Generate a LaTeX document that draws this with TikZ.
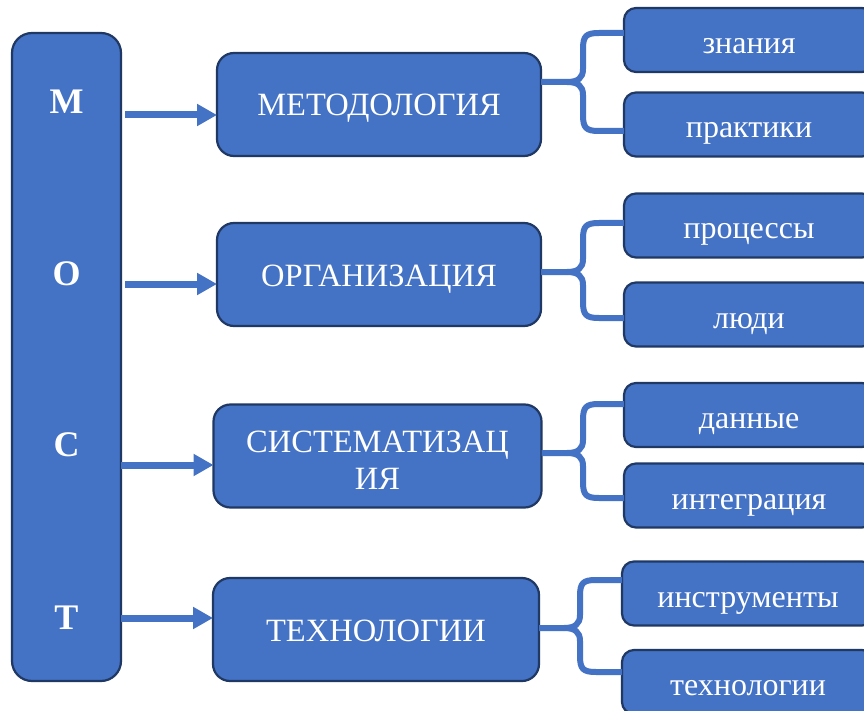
\documentclass[tikz,border=0pt]{standalone}
\usepackage{fontspec}
\setmainfont{Liberation Serif}
\usetikzlibrary{arrows.meta,calc}
\definecolor{boxfill}{HTML}{4472C4}
\definecolor{boxline}{HTML}{1F3864}
\definecolor{conn}{HTML}{4472C4}
\tikzset{
  basebox/.style={draw=boxline,fill=boxfill,line width=2.2pt,inner sep=0pt,outer sep=0pt,text=white,align=center},
  leftbox/.style={basebox,rounded corners=20pt},
  midbox/.style={basebox,rounded corners=17pt,minimum width=324pt,minimum height=103pt,font=\fontsize{32.5}{37}\selectfont,text height=23pt,text depth=0pt},
  midtext/.style={text=white,align=center,font=\fontsize{32.5}{37}\selectfont},
  rightbox/.style={basebox,rounded corners=12pt,minimum width=250pt,minimum height=64pt},
  lettertext/.style={text=white,font=\fontsize{36}{40}\selectfont\bfseries,anchor=base},
  righttext/.style={text=white,font=\fontsize{32}{36}\selectfont,anchor=base},
  arrowline/.style={draw=conn,line width=7pt,-{Triangle[length=20pt,width=21pt]}},
  braceline/.style={draw=conn,line width=6pt,line join=round,line cap=butt}
}
\newcommand\mybrace[7]{% mid node, top node, bottom node, stem y, vertical x, top y, bottom y
  \draw[braceline] (#2.west |- 0,#6) -- ({#5+16},#6) .. controls ({#5+3},#6) and (#5,{#6+3}) .. (#5,{#6+16})
     -- (#5,{#4-13}) .. controls (#5,{#4-4}) and ({#5-5},#4) .. ({#5-16},#4) -- (#1.east |- 0,#4);
  \draw[braceline] (#3.west |- 0,#7) -- ({#5+16},#7) .. controls ({#5+3},#7) and (#5,{#7-3}) .. (#5,{#7-16})
     -- (#5,{#4+13}) .. controls (#5,{#4+4}) and ({#5-5},#4) .. ({#5-16},#4);
}
\begin{document}
\begin{tikzpicture}[x=1pt,y=-1pt]
\useasboundingbox (0,0) rectangle (864,711);
\clip (0,0) rectangle (864,711);
\fill[white] (0,0) rectangle (864,711);

% left tall box
\node[leftbox,minimum width=109pt,minimum height=648pt] (left) at (66.5,357) {};
\node[lettertext] (lM) at (66.5,113.5) {М};
\node[lettertext] (lO) at (66.5,285) {О};
\node[lettertext] (lC) at (66.5,456.5) {С};
\node[lettertext] (lT) at (66.5,629) {Т};

% middle boxes
\node[midbox] (m1) at (379,104.5) {МЕТОДОЛОГИЯ};
\node[midbox] (m2) at (379,274.5) {ОРГАНИЗАЦИЯ};
\node[midbox,minimum width=328pt] (m3) at (377.5,456) {};
\node[midtext] (m3t) at (377.5,460) {СИСТЕМАТИЗАЦ\\ИЯ};
\node[midbox,minimum width=326pt] (m4) at (376,629.5) {ТЕХНОЛОГИИ};

% right boxes
\node[rightbox] (r1) at (749,40) {};
\node[rightbox] (r2) at (749,124.5) {};
\node[rightbox] (r3) at (749,225.5) {};
\node[rightbox] (r4) at (749,314.5) {};
\node[rightbox] (r5) at (749,415) {};
\node[rightbox] (r6) at (749,495.5) {};
\node[rightbox,minimum width=252pt] (r7) at (748,593.5) {};
\node[rightbox,minimum width=252pt] (r8) at (748,682) {};

\node[righttext] (t1) at (749,53.5) {знания};
\node[righttext] (t2) at (749,138) {практики};
\node[righttext] (t3) at (749,239) {процессы};
\node[righttext] (t4) at (749,328) {люди};
\node[righttext] (t5) at (749,428.5) {данные};
\node[righttext] (t6) at (749,509) {интеграция};
\node[righttext] (t7) at (748,607) {инструменты};
\node[righttext] (t8) at (748,695.5) {технологии};

% arrows
\coordinate (a1) at (125,115);
\coordinate (a2) at (125,284);
\coordinate (a3) at (left.east |- 0,465);
\coordinate (a4) at (left.east |- 0,618);
\draw[arrowline] (a1) -- (a1 -| m1.west);
\draw[arrowline] (a2) -- (a2 -| m2.west);
\draw[arrowline] (a3) -- (a3 -| m3.west);
\draw[arrowline] (a4) -- (a4 -| m4.west);

% braces
\mybrace{m1}{r1}{r2}{82}{583}{33}{131}
\mybrace{m2}{r3}{r4}{272}{583}{223}{318}
\mybrace{m3}{r5}{r6}{453}{583}{404}{498}
\mybrace{m4}{r7}{r8}{628}{580}{580}{672}
\end{tikzpicture}
\end{document}
